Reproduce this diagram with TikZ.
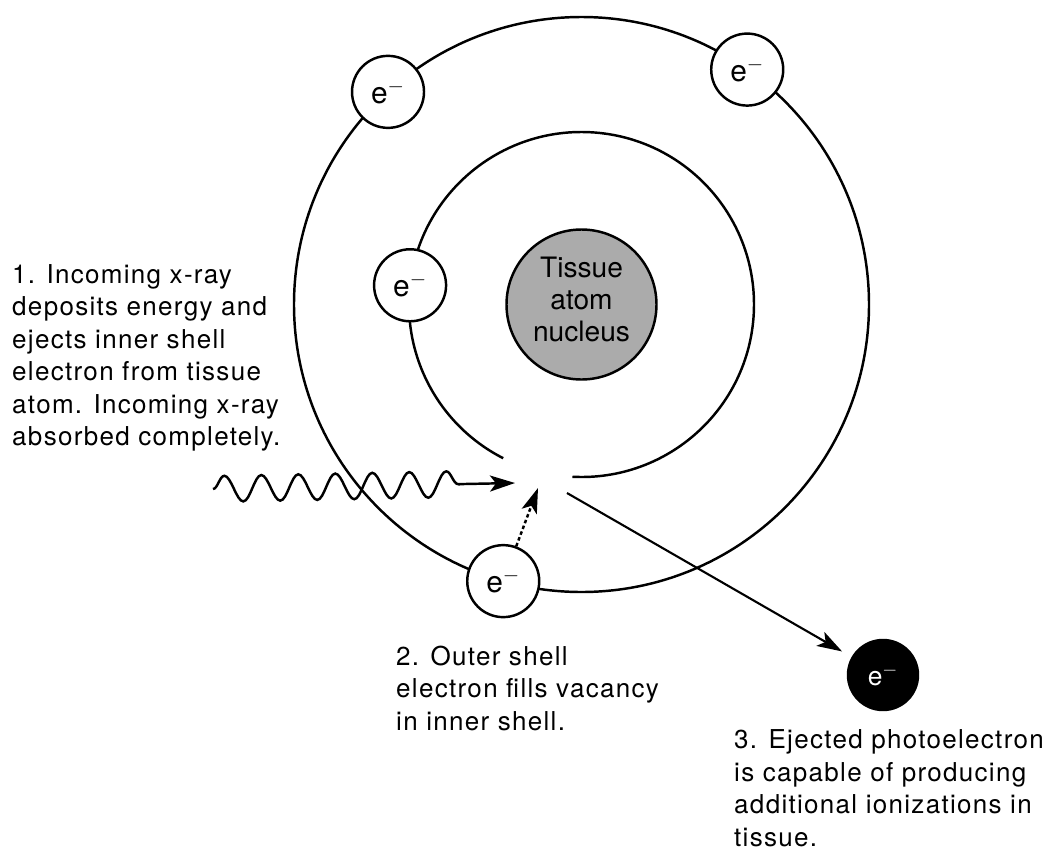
\documentclass[tikz,border=0pt]{standalone}
\usepackage{fontspec}
\setmainfont{TeX Gyre Heros}
\newfontfamily\notefont{TeX Gyre Heros}[LetterSpace=5]
\usetikzlibrary{arrows.meta}
\usetikzlibrary{decorations.pathmorphing}

\begin{document}
\begin{tikzpicture}[line width=1.4pt,
  electron/.style={circle,draw,fill=white,inner sep=0pt,minimum size=1.44cm,font=\fontsize{17}{17}\selectfont},
  note/.style={anchor=base west,align=left,inner sep=0pt,font=\notefont\fontsize{14.8}{18.45}\selectfont},
  tip/.style={-{Stealth[length=0.5cm,width=0.32cm,inset=0.12cm]}}]
\useasboundingbox (0,0) rectangle (21,-17.08);
\coordinate (O) at (11.63,-6.09);
\draw (O) circle (5.75);
\draw ([shift={(-93:3.45)}]O) arc[start angle=-93,end angle=243,radius=3.45];
\node[circle,draw,fill=black!33,minimum size=3cm,inner sep=0pt,text depth=0.2cm,align=center,font=\fontsize{16}{18.2}\selectfont] (nucleus) at (O) {Tissue\\atom\\nucleus};
\coordinate (xray) at (4.26,-9.78);
\coordinate (vacancy) at (10.3,-9.66);
\coordinate (gap) at (10.76,-9.76);
\coordinate (exit) at (11.34,-9.86);
\draw[tip,decorate,decoration={snake,amplitude=0.26cm,segment length=0.74cm,post length=0.8cm}] (xray) -- (vacancy);
\node[electron] (eA) at ([shift={(132.3:5.75)}]O) {e$^-$};
\node[electron] (eB) at ([shift={(54.8:5.75)}]O) {e$^-$};
\node[electron] (eC) at ([shift={(173.6:3.45)}]O) {e$^-$};
\node[electron] (eD) at ([shift={(254.2:5.75)}]O) {e$^-$};
\node[electron,fill=black,text=white,minimum size=1.4cm,font=\fontsize{15}{15}\selectfont] (photo) at (17.66,-13.5) {e$^-$};
\draw[tip,dash pattern=on 2pt off 1.5pt] (eD) -- (gap);
\draw[tip,line width=1.2pt,shorten >=0.22cm] (exit) -- (photo);
\node[note] (step1) at (0.22,-8.91) {1. Incoming x-ray\\deposits energy and\\ejects inner shell\\electron from tissue\\atom. Incoming x-ray\\absorbed completely.};
\node[note] (step2) at (7.9,-14.6) {2. Outer shell\\electron fills vacancy\\in inner shell.};
\node[note] (step3) at (14.66,-16.92) {3. Ejected photoelectron\\is capable of producing\\additional ionizations in\\tissue.};
\end{tikzpicture}
\end{document}
